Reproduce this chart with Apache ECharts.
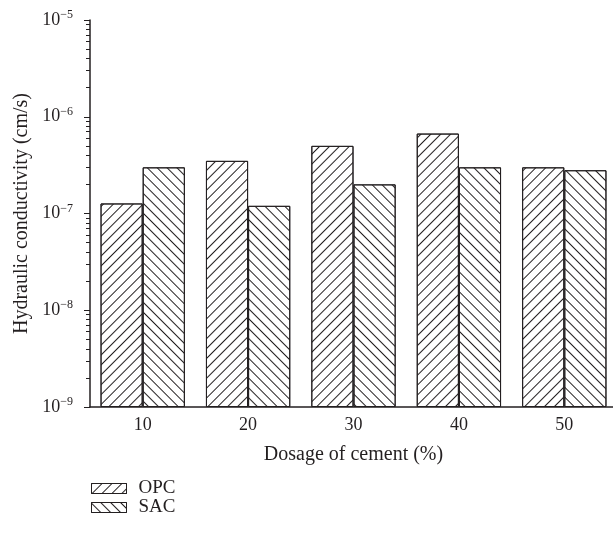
<!DOCTYPE html>
<html>
<head>
<meta charset="utf-8">
<script src="https://cdn.jsdelivr.net/npm/echarts@6/dist/echarts.min.js"></script>
<style>
  html, body { margin: 0; padding: 0; background: #fff; }
  #chart { width: 613px; height: 533px; }
</style>
</head>
<body>
<div id="chart"></div>
<script>
// dosage of cement (%)
var categories = ['10', '20', '30', '40', '50'];
// hydraulic conductivity (cm/s)
var opc = [1.27e-7, 3.5e-7, 5.0e-7, 6.7e-7, 3.0e-7];
var sac = [3.0e-7, 1.2e-7, 2.0e-7, 3.0e-7, 2.8e-7];

// ECharts starts log bars at 1, so plot in units of 1e-9 cm/s
// (axis bottom = 1e-9) and relabel the ticks as powers of ten
var unit = 1e-9;
var yMin = 1e-9 / unit, yMax = 1e-5 / unit;

function toUnit(arr) {
    return arr.map(function (v) { return v / unit; });
}

// minor ticks 2..9 in each decade
var minorTicks = [];
for (var e = 0; e < 4; e++) {
    for (var k = 2; k <= 9; k++) {
        minorTicks.push(k * Math.pow(10, e));
    }
}

var ink = '#231f20';
var font = 'Liberation Serif';

function hatch(rot) {
    return {
        symbol: 'rect',
        symbolSize: 1,
        color: ink,
        backgroundColor: null,
        dashArrayX: [1, 0],
        dashArrayY: [1, 6],
        rotation: rot
    };
}

var chart = echarts.init(document.getElementById('chart'));
chart.setOption({
    animation: false,
    textStyle: { fontFamily: font, color: ink },
    grid: { left: 90, top: 20, width: 527, height: 387, outerBoundsMode: 'none', containLabel: false },
    legend: {
        data: ['OPC', 'SAC'],
        orient: 'vertical',
        left: 86,
        top: 474,
        icon: 'rect',
        itemWidth: 35,
        itemHeight: 10,
        itemGap: 0,
        itemStyle: { borderWidth: 1 },
        textStyle: { fontFamily: font, fontSize: 19, color: ink, padding: [0, 0, 0, 7] }
    },
    xAxis: {
        type: 'category',
        data: categories,
        name: 'Dosage of cement (%)',
        nameLocation: 'middle',
        nameGap: 38,
        nameTextStyle: { fontFamily: font, fontSize: 20, color: ink },
        axisLine: { lineStyle: { color: ink, width: 1.5 } },
        axisTick: { show: false },
        axisLabel: { fontFamily: font, fontSize: 18, color: ink, margin: 9 }
    },
    yAxis: [{
        type: 'log',
        logBase: 10,
        min: yMin,
        max: yMax,
        interval: 1,
        name: 'Hydraulic conductivity (cm/s)',
        nameLocation: 'middle',
        nameGap: 58,
        nameTextStyle: { fontFamily: font, fontSize: 20, color: ink },
        axisLine: { show: true, lineStyle: { color: ink, width: 1.5 } },
        axisTick: { show: true, length: 6, lineStyle: { color: ink } },
        splitLine: { show: false },
        axisLabel: {
            margin: 17,
            formatter: function (v) {
                var p = Math.round(Math.log10(v * unit));
                return '{b|10}{s|' + (p < 0 ? '\u2212' + (-p) : p) + '}';
            },
            rich: {
                b: { fontFamily: font, fontSize: 18, color: ink },
                s: { fontFamily: font, fontSize: 12, color: ink, padding: [0, 0, 10, 0] }
            }
        }
    }, {
        type: 'log',
        logBase: 10,
        min: yMin,
        max: yMax,
        position: 'left',
        axisLine: { show: false },
        axisLabel: { show: false },
        splitLine: { show: false },
        axisTick: { show: true, length: 4, customValues: minorTicks, lineStyle: { color: ink } }
    }],
    series: [{
        name: 'OPC',
        type: 'bar',
        data: toUnit(opc),
        barGap: '0%',
        barCategoryGap: '20%',
        itemStyle: { color: '#fff', borderColor: ink, borderWidth: 1, decal: hatch(-Math.PI / 4) }
    }, {
        name: 'SAC',
        type: 'bar',
        data: toUnit(sac),
        itemStyle: { color: '#fff', borderColor: ink, borderWidth: 1, decal: hatch(Math.PI / 4) }
    }]
});
</script>
</body>
</html>
